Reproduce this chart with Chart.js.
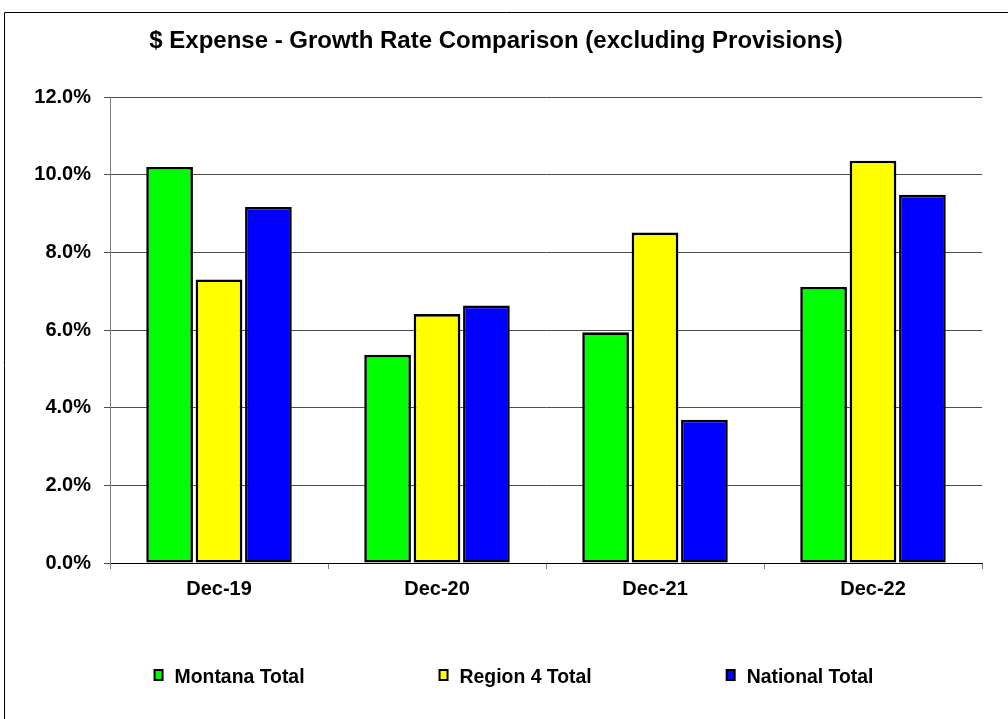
<!DOCTYPE html>
<html>
<head>
<meta charset="utf-8">
<title>$ Expense - Growth Rate Comparison</title>
<script src="https://cdn.jsdelivr.net/npm/chart.js@4.4.1/dist/chart.umd.min.js"></script>
<style>
  html, body { margin: 0; padding: 0; background: #ffffff; }
  #wrap { position: relative; width: 1008px; height: 719px; }
  canvas { display: block; }
</style>
</head>
<body>
<div id="wrap"><canvas id="chart" width="1008" height="719"></canvas></div>
<script>
// Year-end growth rates of expenses (excluding provisions), in percent
const categories = ['Dec-19', 'Dec-20', 'Dec-21', 'Dec-22'];
const montanaTotal = [10.2, 5.36, 5.94, 7.11];
const region4Total = [7.30, 6.41, 8.51, 10.36];
const nationalTotal = [9.17, 6.63, 3.69, 9.48];
const seriesNames = ['Montana Total', 'Region 4 Total', 'National Total'];
const seriesColors = ['#00ff00', '#ffff00', '#0000ff'];
const titleText = '$ Expense - Growth Rate Comparison (excluding Provisions)';

const FONT = '"Liberation Sans", Arial, Helvetica, sans-serif';

// Outer frame and heading
const framePlugin = {
  id: 'frameAndTitle',
  afterDraw(chart) {
    const ctx = chart.ctx;
    ctx.save();
    ctx.strokeStyle = '#000000';
    ctx.lineWidth = 1;
    ctx.beginPath();
    ctx.moveTo(4.5, 719);
    ctx.lineTo(4.5, 12.5);
    ctx.lineTo(1008, 12.5);
    ctx.stroke();

    ctx.fillStyle = '#000000';
    ctx.font = 'bold 24px ' + FONT;
    ctx.textAlign = 'center';
    ctx.textBaseline = 'alphabetic';
    ctx.fillText(titleText, 496, 48);
    ctx.restore();
  }
};

// Single-row legend below the axis, built from the datasets
const legendPlugin = {
  id: 'bottomLegend',
  afterDraw(chart) {
    const ctx = chart.ctx;
    const boxW = 8, boxH = 10, textGap = 12, itemGap = 135;
    ctx.save();
    ctx.font = 'bold 19.4px ' + FONT;
    const items = chart.data.datasets.map(ds => ({
      label: ds.label,
      color: ds.backgroundColor,
      w: boxW + textGap + ctx.measureText(ds.label).width
    }));
    const total = items.reduce((s, it) => s + it.w, 0) + itemGap * (items.length - 1);
    let x = 514 - total / 2;
    const baseline = 683;
    items.forEach(it => {
      ctx.fillStyle = it.color;
      ctx.fillRect(x, 670, boxW, boxH);
      ctx.strokeStyle = '#000000';
      ctx.lineWidth = 2;
      ctx.strokeRect(x, 670, boxW, boxH);
      ctx.fillStyle = '#000000';
      ctx.textAlign = 'left';
      ctx.textBaseline = 'alphabetic';
      ctx.fillText(it.label, x + boxW + textGap, baseline);
      x += it.w + itemGap;
    });
    ctx.restore();
  }
};

const makeDataset = (i, values) => ({
  label: seriesNames[i],
  data: values,
  backgroundColor: seriesColors[i],
  borderColor: '#000000',
  borderWidth: 2.6,
  borderSkipped: false,
  categoryPercentage: 0.68,
  barPercentage: 0.945
});

new Chart(document.getElementById('chart'), {
  type: 'bar',
  data: {
    labels: categories,
    datasets: [
      makeDataset(0, montanaTotal),
      makeDataset(1, region4Total),
      makeDataset(2, nationalTotal)
    ]
  },
  options: {
    responsive: false,
    animation: false,
    layout: { padding: { left: 10, right: 26, top: 97, bottom: 106 } },
    plugins: {
      legend: { display: false },
      title: { display: false },
      tooltip: { enabled: false }
    },
    scales: {
      x: {
        offset: true,
        grid: {
          offset: true,
          drawOnChartArea: false,
          drawTicks: true,
          tickLength: 6,
          color: '#808080'
        },
        border: { color: '#000000', width: 1 },
        ticks: {
          color: '#000000',
          padding: 8,
          font: { family: FONT, size: 20, weight: 'bold' }
        },
        afterFit(scale) { scale.height = 50; }
      },
      y: {
        min: 0,
        max: 12,
        ticks: {
          stepSize: 2,
          color: '#000000',
          padding: 13,
          font: { family: FONT, size: 20, weight: 'bold' },
          callback: v => v.toFixed(1) + '%'
        },
        grid: {
          color: '#4d4d4d',
          lineWidth: 1,
          drawTicks: true,
          tickLength: 6
        },
        border: { color: '#808080', width: 1 },
        afterFit(scale) { scale.width = 100; }
      }
    }
  },
  plugins: [framePlugin, legendPlugin]
});
</script>
</body>
</html>
